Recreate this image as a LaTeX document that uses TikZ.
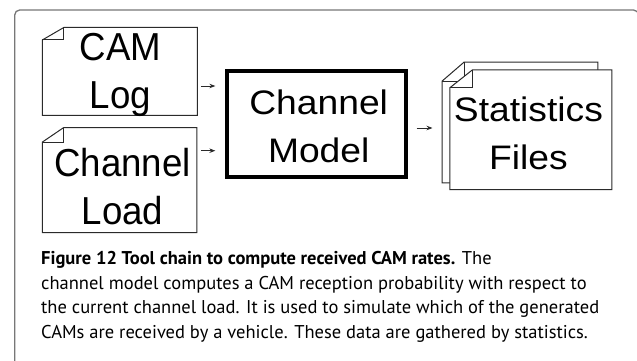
\documentclass[tikz,border=0pt]{standalone}
\usepackage{fontspec}
\usetikzlibrary{arrows.meta}
\newfontfamily\docfont[FakeStretch=0.94]{Liberation Sans}
\newfontfamily\boxfont[FakeStretch=1.095]{Liberation Sans}
\newfontfamily\capfont{PT Sans}
\definecolor{framegray}{HTML}{777777}
\definecolor{inkgray}{HTML}{2A2A2A}

% two centred lines whose baseline is the first line
\newcommand\twolines[2]{\vtop{\halign{\hfil##\hfil\cr#1\cr#2\cr}}}

% document outline with a dog-ear in the top left corner
\newcommand\dogear[3]{%
  \draw[docline, fill=white] ([yshift=-#3pt]#1.north west) -- (#1.south west)
     -- (#1.south east) -- (#1.north east) -- ([xshift=#2pt]#1.north west) -- cycle;
  \draw[docline] ([xshift=#2pt]#1.north west) -- ++(0pt,-#3pt)
     -- ([yshift=-#3pt]#1.north west);
}

\tikzset{
  docbox/.style={rectangle, inner sep=0pt, draw=none},
  docline/.style={draw=inkgray, line width=1pt, line join=miter},
  modelbox/.style={rectangle, inner sep=0pt, draw=black, line width=3.3pt},
  doctext/.style={inner sep=0pt, anchor=base, font=\docfont\fontsize{39}{47.4}\selectfont},
  boxtext/.style={inner sep=0pt, anchor=base, font=\boxfont\fontsize{34}{47.4}\selectfont},
  flow/.style={draw=inkgray, line width=0.9pt, -{Stealth[length=6pt, width=4.5pt]}},
  frame/.style={draw=framegray, line width=1.3pt, rounded corners=5pt},
}

\begin{document}
\begin{tikzpicture}[x=1pt, y=-1pt]
  \useasboundingbox (0,0) rectangle (637,361);
  \clip (0,0) rectangle (637,361);

  % outer panel
  \draw[frame] (14.7,10) rectangle (638.5,430);

  % input documents
  \node[docbox, minimum width=154.7pt, minimum height=87.5pt] (camlog) at (119.85,71.45) {};
  \dogear{camlog}{21.5}{12.5}
  \node[doctext] (camlogtxt) at (120.3,61) {\twolines{CAM}{Log}};

  \node[docbox, minimum width=154.2pt, minimum height=104.6pt] (chload) at (119.6,180) {};
  \dogear{chload}{21.5}{14.6}
  \node[doctext] (chloadtxt) at (122.5,176.7) {\twolines{Channel}{Load}};

  % processing step
  \node[modelbox, minimum width=179pt, minimum height=106pt] (model) at (316.5,124) {};
  \node[boxtext] (modeltxt) at (318.7,114.7) {\twolines{Channel}{Model}};

  % stacked output documents
  \node[docbox, minimum width=155.4pt, minimum height=120.4pt] (statsback) at (520,122.5) {};
  \dogear{statsback}{22}{19}
  \node[docbox, minimum width=161.7pt, minimum height=119.3pt] (statsfront) at (530.85,129.65) {};
  \dogear{statsfront}{22.7}{18}
  \node[boxtext] (statstxt) at (528.4,121.7) {\twolines{Statistics}{Files}};

  % data flow
  \draw[flow, shorten <=3.5pt, shorten >=10pt]
    ([yshift=-14.55pt]camlog.east) -- ([yshift=-14.55pt]camlog.east -| model.west);
  \draw[flow, shorten <=4pt, shorten >=10pt]
    ([yshift=29.3pt]chload.east) -- ([yshift=29.3pt]chload.east -| model.west);
  \draw[flow, shorten <=9pt, shorten >=9.6pt]
    ([yshift=-4pt]model.east) -- ([yshift=-4pt]model.east -| statsback.west);

  % caption
  \node[inner sep=0pt, anchor=base west, font=\capfont\fontsize{18.5}{24.5}\selectfont] (caption) at (41,264.5)
    {\vtop{\hbox{\textbf{Figure 12 Tool chain to compute received CAM rates.} The}
           \hbox{channel model computes a CAM reception probability with respect to}
           \hbox{the current channel load. It is used to simulate which of the generated}
           \hbox{CAMs are received by a vehicle. These data are gathered by statistics.}}};
\end{tikzpicture}
\end{document}
